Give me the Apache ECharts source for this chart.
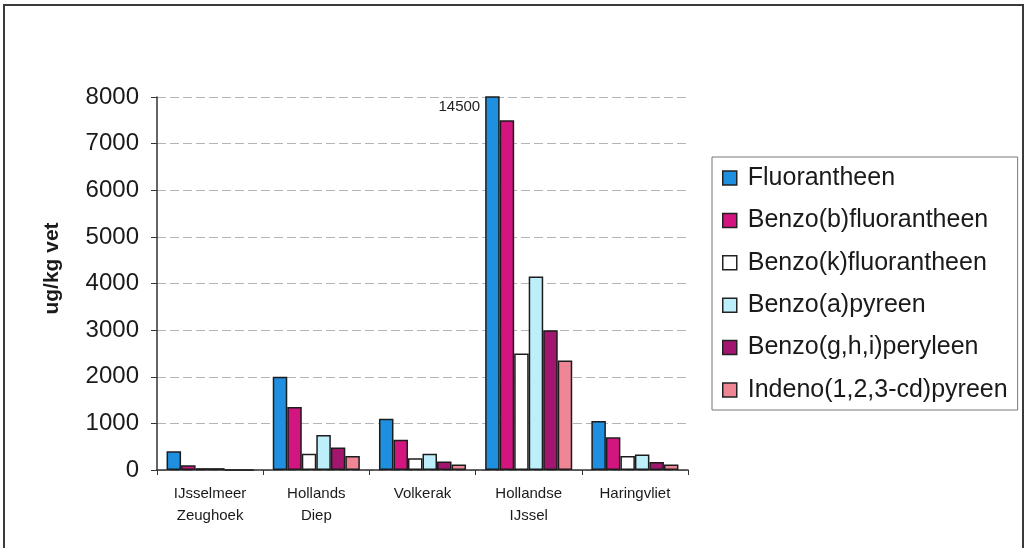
<!DOCTYPE html>
<html>
<head>
<meta charset="utf-8">
<script src="https://cdn.jsdelivr.net/npm/echarts@6/dist/echarts.min.js"></script>
<style>
  html, body { margin: 0; padding: 0; background: #ffffff; }
  #chart { width: 1028px; height: 548px; }
</style>
</head>
<body>
<div id="chart"></div>
<script>
// Locations (x categories)
const locations = ['IJsselmeer\nZeughoek', 'Hollands\nDiep', 'Volkerak', 'Hollandse\nIJssel', 'Haringvliet'];

// PAK concentrations per location, ug/kg vet
const fluorantheen       = [400, 2000, 1100, 14500, 1050];
const benzoBFluorantheen = [100, 1350, 650, 7500, 700];
const benzoKFluorantheen = [40, 350, 250, 2500, 300];
const benzoAPyreen       = [40, 750, 350, 4150, 330];
const benzoGHIPeryleen   = [0, 480, 180, 3000, 170];
const indenoPyreen       = [0, 300, 120, 2350, 120];

const seriesNames = [
  'Fluorantheen',
  'Benzo(b)fluorantheen',
  'Benzo(k)fluorantheen',
  'Benzo(a)pyreen',
  'Benzo(g,h,i)peryleen',
  'Indeno(1,2,3-cd)pyreen'
];
const seriesValues = [fluorantheen, benzoBFluorantheen, benzoKFluorantheen, benzoAPyreen, benzoGHIPeryleen, indenoPyreen];
const seriesColors = ['#1f8fe0', '#d3157f', '#ffffff', '#bdeffa', '#a3166f', '#ef8696'];

// y axis range; values above the top are cut off and labelled
const yMin = 0;
const yMax = 8000;
const yStep = 1000;

const FONT = "'Liberation Sans', Arial, sans-serif";

const chart = echarts.init(document.getElementById('chart'), null, { renderer: 'canvas' });

const series = seriesNames.map((name, i) => ({
  name: name,
  type: 'bar',
  barGap: '0%',
  barCategoryGap: '18%',
  clip: true,
  itemStyle: { color: seriesColors[i], borderColor: '#1c1c1c', borderWidth: 1.5 },
  emphasis: { disabled: true },
  data: seriesValues[i].map(v => {
    if (v > yMax) {
      return {
        value: v,
        label: {
          show: true,
          position: [-5, 3],
          align: 'right',
          verticalAlign: 'top',
          formatter: String(v),
          fontFamily: FONT,
          fontSize: 15,
          color: '#222'
        }
      };
    }
    return v;
  })
}));

chart.setOption({
  animation: false,
  backgroundColor: '#ffffff',
  grid: { left: 157, right: 340, top: 97, bottom: 78, containLabel: false },
  graphic: [{
    type: 'rect',
    shape: { x: 4, y: 5, width: 1019, height: 600 },
    style: { fill: 'none', stroke: '#3a3a3a', lineWidth: 2 },
    silent: true
  }],
  legend: {
    orient: 'vertical',
    left: 712,
    top: 157,
    padding: [8, 10, 7, 10],
    itemGap: 16.4,
    itemWidth: 14,
    itemHeight: 14,
    icon: 'rect',
    borderColor: '#777',
    borderWidth: 1,
    backgroundColor: '#ffffff',
    selectedMode: false,
    itemStyle: { borderColor: '#222', borderWidth: 1.5 },
    textStyle: { fontFamily: FONT, fontSize: 25, lineHeight: 26, color: '#1a1a1a', padding: [0, 0, 0, 6] },
    data: seriesNames
  },
  xAxis: {
    type: 'category',
    data: locations,
    axisLine: { lineStyle: { color: '#333', width: 1.5 } },
    axisTick: { show: true, length: 5, lineStyle: { color: '#333' } },
    axisLabel: {
      fontFamily: FONT,
      fontSize: 15,
      lineHeight: 22,
      margin: 13,
      color: '#1a1a1a',
      interval: 0
    }
  },
  yAxis: {
    type: 'value',
    min: yMin,
    max: yMax,
    interval: yStep,
    name: 'ug/kg vet',
    nameLocation: 'middle',
    nameRotate: 90,
    nameGap: 94,
    nameTextStyle: { fontFamily: FONT, fontSize: 21, fontWeight: 'bold', color: '#1a1a1a', padding: [0, 0, 0, 30] },
    axisLine: { show: true, lineStyle: { color: '#333', width: 1.5 } },
    axisTick: { show: true, length: 6, lineStyle: { color: '#333' } },
    axisLabel: { fontFamily: FONT, fontSize: 24, margin: 18, color: '#1a1a1a', formatter: v => String(v) },
    splitLine: { show: true, lineStyle: { color: '#b4b4b4', width: 1, type: [9, 4] } }
  },
  series: series
});
</script>
</body>
</html>
